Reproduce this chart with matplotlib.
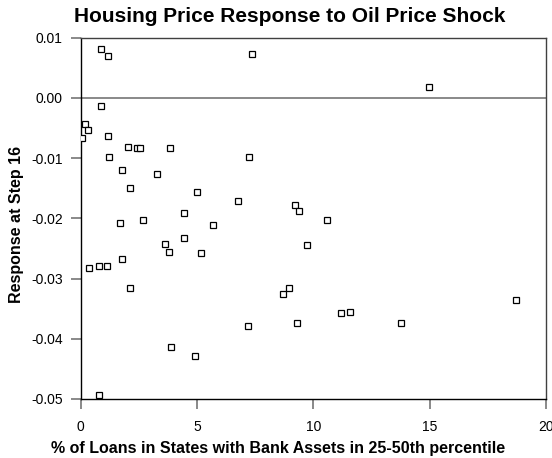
import matplotlib
matplotlib.use("Agg")
import matplotlib.pyplot as plt

loan_share = [0.86, 1.17, 7.37, 14.97, 0.89, 0.18, 0.33, 0.07, 1.16, 1.20,
              2.05, 2.42, 2.56, 3.85, 7.24, 1.78, 3.30, 2.10, 5.02, 6.78,
              9.19, 9.39, 2.69, 4.46, 1.68, 5.70, 3.64, 4.46, 3.81, 5.16,
              9.74, 10.58, 0.34, 0.79, 1.12, 1.79, 2.13, 8.71, 8.96, 7.18,
              9.30, 11.17, 11.58, 13.76, 18.72, 3.90, 4.93, 0.79]
response = [0.0082, 0.0069, 0.0073, 0.0018, -0.0014, -0.0044, -0.0054, -0.0067, -0.0064, -0.0098,
            -0.0082, -0.0084, -0.0083, -0.0084, -0.0098, -0.0119, -0.0126, -0.0149, -0.0157, -0.0171,
            -0.0177, -0.0187, -0.0202, -0.0191, -0.0208, -0.0211, -0.0243, -0.0232, -0.0256, -0.0258,
            -0.0244, -0.0203, -0.0282, -0.0279, -0.0279, -0.0268, -0.0316, -0.0325, -0.0315, -0.0379,
            -0.0374, -0.0358, -0.0356, -0.0374, -0.0336, -0.0414, -0.0428, -0.0493]

x_ticks = [0, 5, 10, 15, 20]
y_ticks = [0.01, 0.00, -0.01, -0.02, -0.03, -0.04, -0.05]
y_tick_labels = ["0.01", "0.00", "-0.01", "-0.02", "-0.03", "-0.04", "-0.05"]

plt.rcParams['font.family'] = ['Liberation Sans', 'DejaVu Sans']

fig = plt.figure(figsize=(5.52, 4.58), dpi=100)
ax = fig.add_axes([80.7/552, 1 - 399/458, (546 - 80.7)/552, (399 - 37.7)/458])

ax.plot(loan_share, response, linestyle='none', marker='s', markersize=4,
        markerfacecolor='white', markeredgecolor='black', markeredgewidth=0.9, zorder=3)
ax.axhline(0, color='#808080', linewidth=1.3, zorder=2)

ax.set_xlim(0, 20)
ax.set_ylim(-0.05, 0.01)
ax.set_xticks(x_ticks)
ax.set_xticklabels([str(t) for t in x_ticks])
ax.set_yticks(y_ticks)
ax.set_yticklabels(y_tick_labels)

for s in ['left', 'bottom']:
    ax.spines[s].set_color('black')
    ax.spines[s].set_linewidth(1.0)
for s in ['top', 'right']:
    ax.spines[s].set_color('#404040')
    ax.spines[s].set_linewidth(1.0)

ax.tick_params(axis='both', direction='out', length=7, width=1.3, color='#808080',
               labelsize=10, labelcolor='black')
ax.tick_params(axis='x', pad=8)
ax.tick_params(axis='y', pad=6)

fig.text(290/552, 1 - 17/458, "Housing Price Response to Oil Price Shock",
         ha='center', va='center', fontsize=15, fontweight='bold')
fig.text(278/552, 1 - 448/458, "% of Loans in States with Bank Assets in 25-50th percentile",
         ha='center', va='center', fontsize=11.5, fontweight='bold')
fig.text(17/552, 1 - 224/458, "Response at Step 16", rotation=90,
         ha='center', va='center', fontsize=11.5, fontweight='bold')

fig.savefig("out.png", dpi=100)
